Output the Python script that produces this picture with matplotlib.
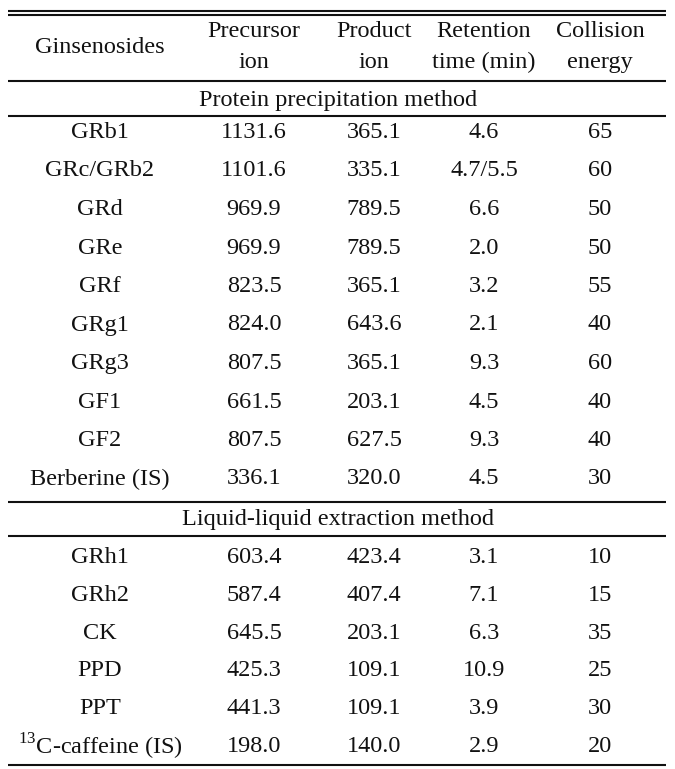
import matplotlib
matplotlib.use("Agg")
import matplotlib.pyplot as plt

header_top = ["", "Precursor", "Product", "Retention", "Collision"]
header_bot = ["", "ion", "ion", "time (min)", "energy"]
header_mid = "Ginsenosides"

section1 = "Protein precipitation method"
names1 = ["GRb1", "GRc/GRb2", "GRd", "GRe", "GRf", "GRg1", "GRg3", "GF1", "GF2", "Berberine (IS)"]
precursor1 = ["1131.6", "1101.6", "969.9", "969.9", "823.5", "824.0", "807.5", "661.5", "807.5", "336.1"]
product1 = ["365.1", "335.1", "789.5", "789.5", "365.1", "643.6", "365.1", "203.1", "627.5", "320.0"]
retention1 = ["4.6", "4.7/5.5", "6.6", "2.0", "3.2", "2.1", "9.3", "4.5", "9.3", "4.5"]
collision1 = ["65", "60", "50", "50", "55", "40", "60", "40", "40", "30"]

section2 = "Liquid-liquid extraction method"
names2 = ["GRh1", "GRh2", "CK", "PPD", "PPT", r"$^{13}$C-caffeine (IS)"]
precursor2 = ["603.4", "587.4", "645.5", "425.3", "441.3", "198.0"]
product2 = ["423.4", "407.4", "203.1", "109.1", "109.1", "140.0"]
retention2 = ["3.1", "7.1", "6.3", "10.9", "3.9", "2.9"]
collision2 = ["10", "15", "35", "25", "30", "20"]

W, H = 675, 769
plt.rcParams["mathtext.fontset"] = "custom"
plt.rcParams["mathtext.rm"] = "Liberation Serif"
fig = plt.figure(figsize=(W / 100, H / 100), dpi=100)
ax = fig.add_axes([0, 0, 1, 1])
ax.set_xlim(0, W)
ax.set_ylim(H, 0)
ax.axis("off")

font = dict(family="Liberation Serif", fontsize=17.5, color="#111111", ha="center", va="center")

col_x = [100, 254, 374, 484, 600]
x0, x1 = 8, 666
lw = 1.5
dy = 1.5

def hline(y):
    ax.plot([x0, x1], [y, y], color="#111111", lw=lw, solid_capstyle="butt")

hline(10.8)
hline(14.5)
ax.text(col_x[0], 46 + dy, header_mid, **font)
for i in range(1, 5):
    ax.text(col_x[i], 30 + dy, header_top[i], **font)
    ax.text(col_x[i], 61 + dy, header_bot[i], **font)
hline(80.5)
ax.text(W / 2 + 1, 99 + dy, section1, **font)
hline(115.5)

row_h = 38.5
y = 131 + dy
for n, p, pr, r, c in zip(names1, precursor1, product1, retention1, collision1):
    for xi, t in zip(col_x, [n, p, pr, r, c]):
        ax.text(xi, y, t, **font)
    y += row_h
hline(501.5)
ax.text(W / 2 + 1, 518 + dy, section2, **font)
hline(535.5)
y = 556 + dy
for n, p, pr, r, c in zip(names2, precursor2, product2, retention2, collision2):
    for xi, t in zip(col_x, [n, p, pr, r, c]):
        ax.text(xi, y, t, **font)
    y += 37.8
hline(764.5)

fig.savefig("out.png", dpi=100, facecolor="white")
